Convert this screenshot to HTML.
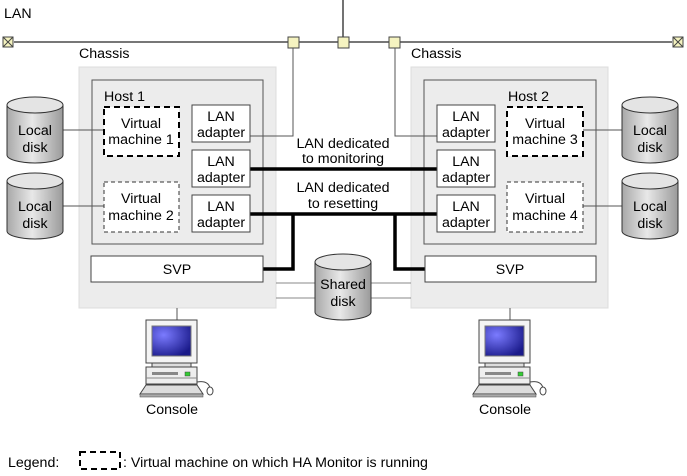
<!DOCTYPE html>
<html><head><meta charset="utf-8"><style>
html,body{margin:0;padding:0;background:#fff;}
svg{display:block;font-family:"Liberation Sans",Arial,sans-serif;font-size:14.2px;fill:#000;}
</style></head><body>
<svg width="687" height="476" viewBox="0 0 687 476" xmlns="http://www.w3.org/2000/svg">
<defs>
<linearGradient id="cyl" x1="0" x2="1" y1="0" y2="0">
<stop offset="0" stop-color="#a8a8a8"/><stop offset="0.45" stop-color="#e8e8e8"/><stop offset="1" stop-color="#9a9a9a"/>
</linearGradient>
<radialGradient id="scr" cx="0.3" cy="0.3" r="0.8">
<stop offset="0" stop-color="#7b7bff"/><stop offset="1" stop-color="#1a1a8a"/>
</radialGradient>
<g id="disk">
<path d="M0,8 L0,58 A28,8 0 0 0 56,58 L56,8" fill="url(#cyl)" stroke="#333" stroke-width="1"/>
<ellipse cx="28" cy="8" rx="28" ry="8" fill="#e4e4e4" stroke="#333" stroke-width="1"/>
</g>
<g id="pc">
<rect x="0" y="0" width="51" height="43" fill="#f4f4f4" stroke="#444"/>
<rect x="6" y="6" width="39" height="30" fill="url(#scr)" stroke="#777"/>
<rect x="6" y="43" width="39" height="4" fill="#ddd" stroke="#444"/>
<rect x="0" y="47" width="51" height="17" fill="#eee" stroke="#444"/>
<rect x="6" y="52" width="26" height="3" fill="#888"/>
<rect x="39" y="52" width="5" height="4" fill="#3c3" stroke="#444" stroke-width="0.5"/>
<line x1="0" y1="58" x2="51" y2="58" stroke="#888"/>
<path d="M-6,74 L0,65 L51,65 L57,74 Z" fill="#ddd" stroke="#444"/>
<rect x="-6" y="74" width="63" height="3" fill="#aaa" stroke="#444" stroke-width="0.5"/>
<path d="M51,62 Q62,60 64,68" fill="none" stroke="#444"/>
<ellipse cx="64" cy="71" rx="3" ry="4" fill="#fff" stroke="#444"/>
</g>
</defs>

<text x="4" y="18">LAN</text>
<line x1="14" y1="42" x2="672" y2="42" stroke="#777" stroke-width="2"/>
<line x1="343" y1="0" x2="343" y2="37" stroke="#444" stroke-width="1.5"/>
<g stroke="#444" fill="#f5f3c0">
<rect x="3" y="37" width="10" height="10"/>
<rect x="673" y="37" width="10" height="10"/>
<rect x="288" y="37" width="11" height="11"/>
<rect x="338" y="37" width="11" height="11"/>
<rect x="389" y="37" width="11" height="11"/>
</g>
<g stroke="#444"><path d="M3,37 L13,47 M13,37 L3,47 M673,37 L683,47 M683,37 L673,47"/></g>

<text x="79" y="58">Chassis</text>
<text x="411" y="58">Chassis</text>
<rect x="79" y="67" width="197" height="241" fill="#ececec" stroke="#ddd"/>
<rect x="411" y="67" width="197" height="241" fill="#ececec" stroke="#ddd"/>
<rect x="92" y="80" width="171" height="164" fill="#ececec" stroke="#555"/>
<rect x="424" y="80" width="172" height="164" fill="#ececec" stroke="#555"/>
<text x="104" y="101">Host 1</text>
<text x="508" y="101">Host 2</text>

<g stroke="#555" stroke-width="1" fill="none">
<polyline points="250,136 293,136 293,48"/>
<polyline points="437,136 395,136 395,48"/>
<line x1="63" y1="130" x2="104" y2="130"/>
<line x1="63" y1="206" x2="104" y2="206"/>
<line x1="583" y1="130" x2="622" y2="130"/>
<line x1="583" y1="206" x2="622" y2="206"/>
<line x1="177" y1="308" x2="177" y2="320"/>
<line x1="510" y1="308" x2="510" y2="320"/>
</g>
<g stroke="#888" stroke-width="1">
<line x1="276" y1="283" x2="316" y2="283"/><line x1="276" y1="298" x2="316" y2="298"/>
<line x1="371" y1="283" x2="411" y2="283"/><line x1="371" y1="298" x2="411" y2="298"/>
</g>

<g stroke="#000" stroke-width="3.5" fill="none">
<line x1="250" y1="169" x2="437" y2="169"/>
<line x1="250" y1="214" x2="437" y2="214"/>
<polyline points="293,214 293,269 263,269"/>
<polyline points="395,214 395,269 425,269"/>
</g>
<text x="343" y="148" text-anchor="middle">LAN dedicated</text>
<text x="343" y="163" text-anchor="middle">to monitoring</text>
<text x="343" y="192" text-anchor="middle">LAN dedicated</text>
<text x="343" y="208" text-anchor="middle">to resetting</text>

<rect x="104" y="107" width="75" height="49" fill="#fff" stroke="#000" stroke-width="2" stroke-dasharray="6,4"/>
<rect x="104" y="182" width="75" height="50" fill="#fff" stroke="#333" stroke-width="1" stroke-dasharray="4,3"/>
<rect x="507" y="107" width="76" height="49" fill="#fff" stroke="#000" stroke-width="2" stroke-dasharray="6,4"/>
<rect x="507" y="182" width="76" height="50" fill="#fff" stroke="#333" stroke-width="1" stroke-dasharray="4,3"/>
<g text-anchor="middle">
<text x="141" y="128">Virtual</text><text x="141" y="144">machine 1</text>
<text x="141" y="203">Virtual</text><text x="141" y="220">machine 2</text>
<text x="545" y="128">Virtual</text><text x="545" y="144">machine 3</text>
<text x="545" y="203">Virtual</text><text x="545" y="220">machine 4</text>
</g>

<g fill="#fff" stroke="#444">
<rect x="192" y="105" width="58" height="37"/><rect x="192" y="150" width="58" height="37"/><rect x="192" y="195" width="58" height="37"/>
<rect x="437" y="105" width="58" height="37"/><rect x="437" y="150" width="58" height="37"/><rect x="437" y="195" width="58" height="37"/>
</g>
<g text-anchor="middle">
<text x="221" y="121">LAN</text><text x="221" y="137">adapter</text>
<text x="221" y="166">LAN</text><text x="221" y="182">adapter</text>
<text x="221" y="211">LAN</text><text x="221" y="227">adapter</text>
<text x="466" y="121">LAN</text><text x="466" y="137">adapter</text>
<text x="466" y="166">LAN</text><text x="466" y="182">adapter</text>
<text x="466" y="211">LAN</text><text x="466" y="227">adapter</text>
</g>

<rect x="91" y="256" width="172" height="26" fill="#fff" stroke="#444"/>
<rect x="425" y="256" width="171" height="26" fill="#fff" stroke="#444"/>
<text x="177" y="274" text-anchor="middle">SVP</text>
<text x="510" y="274" text-anchor="middle">SVP</text>

<use href="#disk" x="7" y="97"/>
<use href="#disk" x="7" y="173"/>
<use href="#disk" x="622" y="97"/>
<use href="#disk" x="622" y="173"/>
<use href="#disk" x="315" y="254"/>
<g text-anchor="middle">
<text x="35" y="135">Local</text><text x="35" y="152">disk</text>
<text x="35" y="211">Local</text><text x="35" y="228">disk</text>
<text x="650" y="135">Local</text><text x="650" y="152">disk</text>
<text x="650" y="211">Local</text><text x="650" y="228">disk</text>
<text x="343" y="289">Shared</text><text x="343" y="306">disk</text>
</g>

<use href="#pc" x="146" y="320"/>
<use href="#pc" x="479" y="320"/>
<text x="172" y="414" text-anchor="middle">Console</text>
<text x="505" y="414" text-anchor="middle">Console</text>

<text x="8" y="467">Legend:</text>
<rect x="80" y="452" width="40" height="17" fill="#fff" stroke="#000" stroke-width="2" stroke-dasharray="6,4"/>
<text x="123" y="467">: Virtual machine on which HA Monitor is running</text>
</svg>
</body></html>
